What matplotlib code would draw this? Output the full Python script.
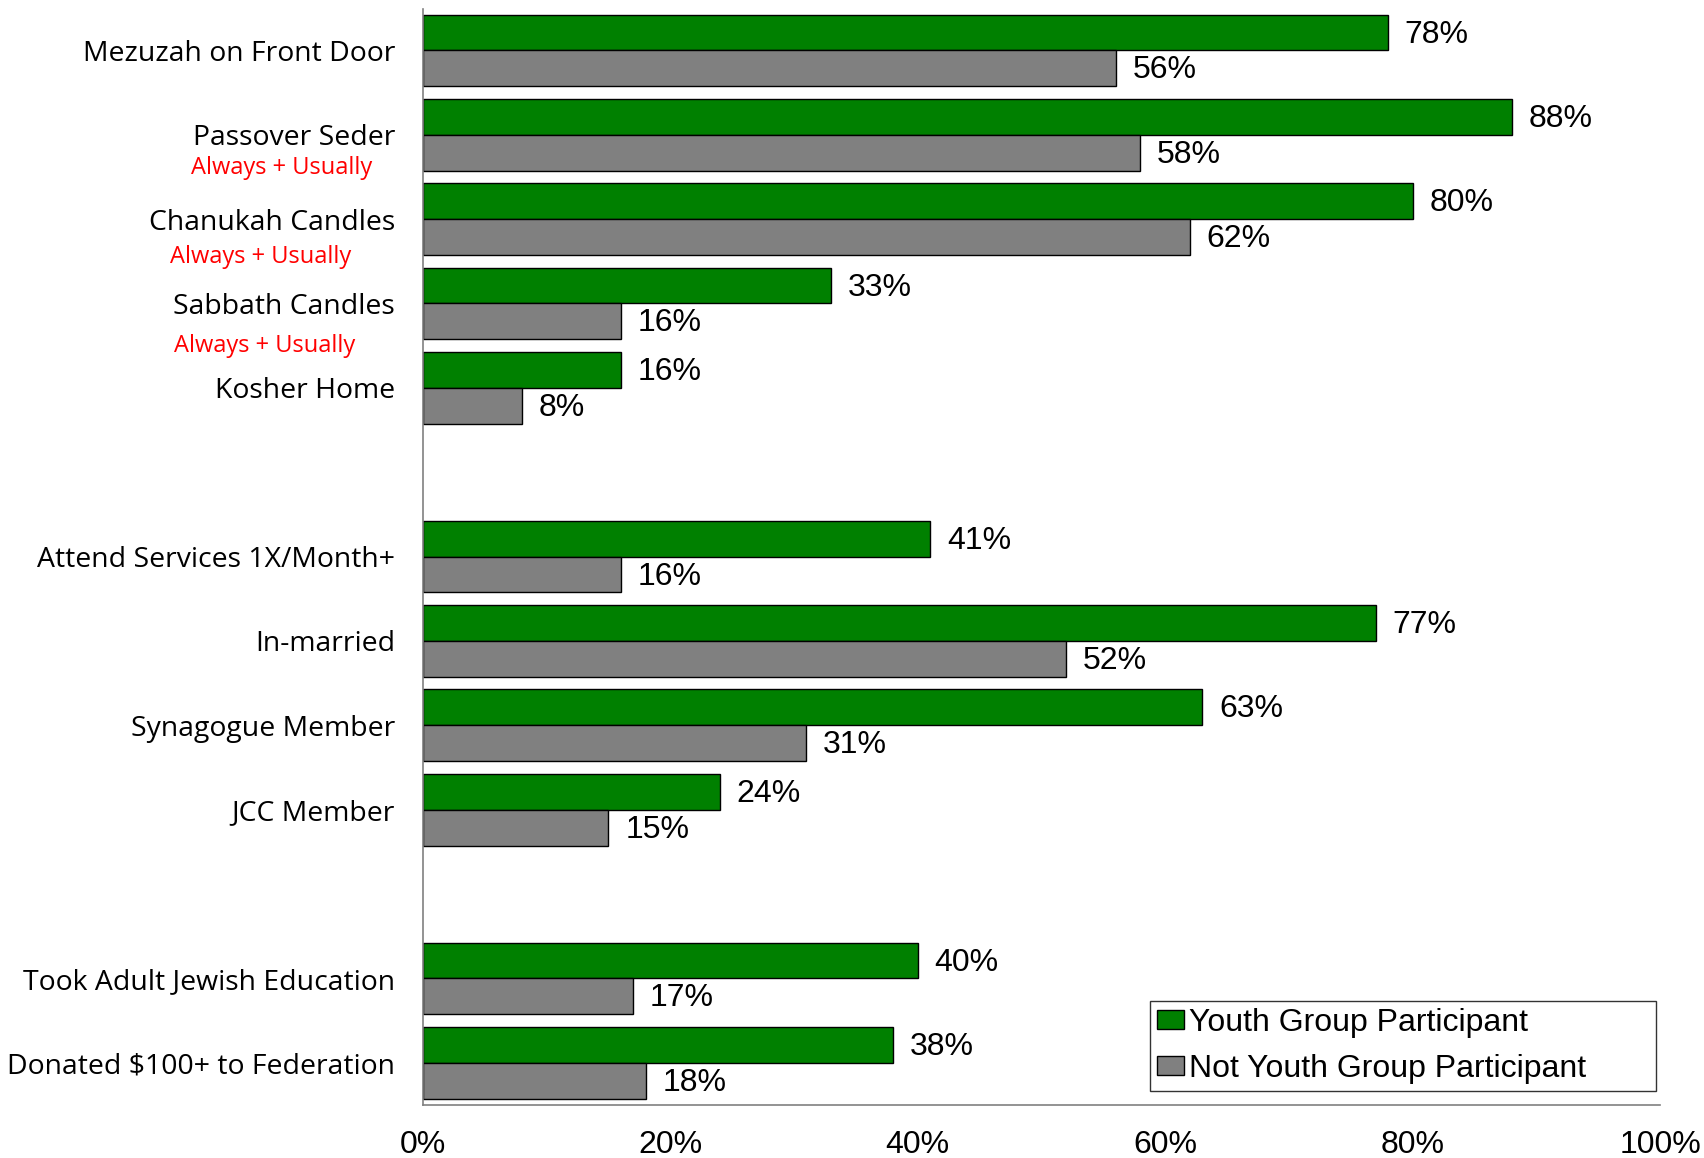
import matplotlib
matplotlib.use("Agg")
import matplotlib.pyplot as plt
from matplotlib.patches import Patch
import matplotlib.transforms as mtransforms

# ---- data ----
group_1 = ["Mezuzah on Front Door", "Passover Seder", "Chanukah Candles",
           "Sabbath Candles", "Kosher Home"]
group_2 = ["Attend Services 1X/Month+", "In-married", "Synagogue Member", "JCC Member"]
group_3 = ["Took Adult Jewish Education", "Donated \\$100+ to Federation"]
youth = [78, 88, 80, 33, 16, 41, 77, 63, 24, 40, 38]
not_youth = [56, 58, 62, 16, 8, 16, 52, 31, 15, 17, 18]
series_names = ["Youth Group Participant", "Not Youth Group Participant"]
xticks = [0, 20, 40, 60, 80, 100]
sub_note = "Always + Usually"
note_for = ["Passover Seder", "Chanukah Candles", "Sabbath Candles"]

GREEN = "#008000"
GRAY = "#808080"

# slot positions: one empty slot between groups
categories = group_1 + group_2 + group_3
slots = []
s = 0
for g in (group_1, group_2, group_3):
    for _ in g:
        slots.append(s)
        s += 1
    s += 1

fig = plt.figure(figsize=(17.04, 11.58), dpi=100)
ax = fig.add_axes([0.2482, 0.0458, 0.726, 0.9464])

h = 0.4247
ax.barh([p - h / 2 for p in slots], youth, height=h, color=GREEN,
        edgecolor="black", linewidth=1.0)
ax.barh([p + h / 2 for p in slots], not_youth, height=h, color=GRAY,
        edgecolor="black", linewidth=1.0)

val_font = dict(family="Liberation Sans", fontsize=23, color="black")
for p, v in zip(slots, youth):
    ax.annotate(f"{v}%", (v, p - h / 2), xytext=(12, -1.5), textcoords="offset points",
                va="center", ha="left", **val_font)
for p, v in zip(slots, not_youth):
    ax.annotate(f"{v}%", (v, p + h / 2), xytext=(12, -1.5), textcoords="offset points",
                va="center", ha="left", **val_font)

ax.set_xlim(0, 100)
ax.set_ylim(12.5, -0.49)
ax.set_yticks(slots)
ax.set_yticklabels(categories, family="Open Sans", fontsize=20.4)
ax.set_xticks(xticks)
ax.set_xticklabels([f"{t}%" for t in xticks], family="Liberation Sans", fontsize=23)
ax.tick_params(axis="y", length=0, pad=20)
ax.tick_params(axis="x", length=0, pad=18)

for sp in ("top", "right"):
    ax.spines[sp].set_visible(False)
for sp in ("left", "bottom"):
    ax.spines[sp].set_color("#808080")
    ax.spines[sp].set_linewidth(1.2)

# red sub-notes
trans = mtransforms.blended_transform_factory(ax.transAxes, ax.transData)
note_offsets = {"Passover Seder": (-0.0407, 0.39),
                "Chanukah Candles": (-0.0582, 0.445),
                "Sabbath Candles": (-0.0547, 0.50)}
for name in note_for:
    i = categories.index(name)
    xo, yo = note_offsets[name]
    ax.text(xo, slots[i] + yo, sub_note, transform=trans, ha="right", va="center",
            color="red", family="Open Sans", fontsize=17)

handles = [Patch(facecolor=GREEN, edgecolor="black", label=series_names[0]),
           Patch(facecolor=GRAY, edgecolor="black", label=series_names[1])]
leg = ax.legend(handles=handles, loc="lower left", mode="expand",
                bbox_to_anchor=(0.5874, 0.0129, 0.4091, 0.0842),
                prop=dict(family="Liberation Sans", size=23), frameon=True,
                fancybox=False, edgecolor="black", handlelength=0.85, handleheight=0.55,
                handletextpad=0.15, borderpad=0.22, labelspacing=0.5, borderaxespad=0)
leg.get_frame().set_linewidth(1.0)

fig.savefig("out.png", dpi=100)
